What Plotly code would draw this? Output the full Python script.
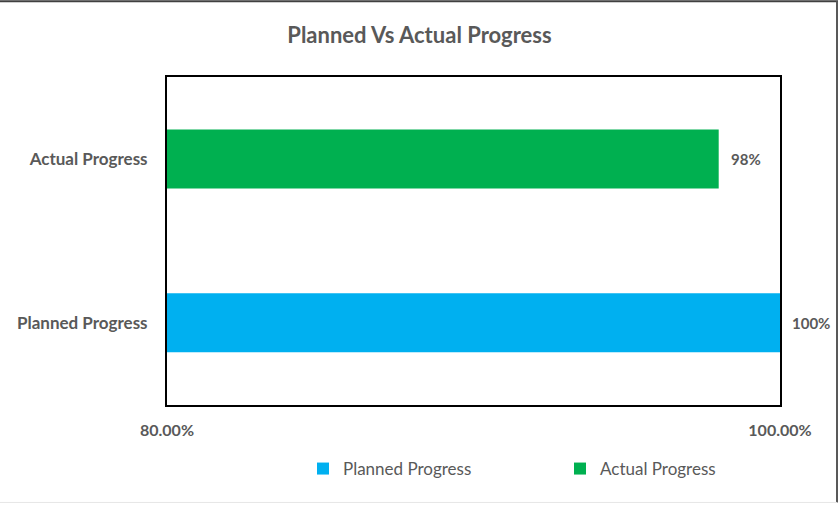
import plotly.graph_objects as go

categories = ["Planned Progress", "Actual Progress"]
values = [1.00, 0.98]
value_labels = ["100%", "98%"]
colors = ["#00B0F0", "#00B050"]
x_ticks = [0.80, 1.00]
x_tick_labels = ["80.00%", "100.00%"]

FONT = "Lato"
GREY = "#595959"

# plot-area pixel frame (used only for converting frame decorations)
L, R, T, B = 167, 780, 77, 406
W, H = R - L, B - T
def px(x):
    return (x - L) / W
def py(y):
    return (B - y) / H

fig = go.Figure()
for cat, val, col in zip(categories, values, colors):
    fig.add_trace(go.Bar(
        y=[cat], x=[val], orientation="h", name=cat,
        marker=dict(color=col, line=dict(width=0)),
        width=0.36,
    ))

for cat, val, lab in zip(categories, values, value_labels):
    fig.add_annotation(x=val, y=cat, text=f"<b>{lab}</b>", showarrow=False,
                       xanchor="left", xshift=10, yshift=0,
                       font=dict(family=FONT, size=15, color=GREY))

fig.update_layout(
    width=839, height=506,
    margin=dict(l=L, r=839 - R, t=T, b=506 - B),
    paper_bgcolor="white", plot_bgcolor="white",
    barmode="overlay",
    title=dict(text="<b>Planned Vs Actual Progress</b>", x=0.5, xanchor="center",
               y=1 - 35 / 506, yanchor="middle", xref="container",
               font=dict(family=FONT, size=22, color=GREY)),
    showlegend=True,
    legend=dict(orientation="h", xref="container", x=(323 - 20) / 839, xanchor="left",
                yref="container", y=1 - 451 / 506, yanchor="top",
                entrywidth=212, entrywidthmode="pixels",
                font=dict(family=FONT, size=17, color=GREY),
                traceorder="normal", borderwidth=0),
    xaxis=dict(range=[0.8, 1.0], tickvals=x_ticks, ticktext=[f"<b>{t}</b>" for t in x_tick_labels],
               showgrid=False, zeroline=False, showline=True, mirror=True,
               linecolor="black", linewidth=2, ticks="", ticklabelstandoff=10,
               tickfont=dict(family=FONT, size=16, color=GREY), fixedrange=True),
    yaxis=dict(categoryorder="array", categoryarray=categories,
               tickvals=categories, ticktext=[f"<b>{c}</b>" for c in categories],
               range=[-0.5, 1.5],
               showgrid=False, zeroline=False, showline=True, mirror=True,
               linecolor="black", linewidth=2, ticks="", ticklabelstandoff=14,
               tickfont=dict(family=FONT, size=17, color=GREY)),
)

# outer chart frame
fig.add_shape(type="line", xref="paper", yref="paper", x0=px(0), x1=px(838), y0=py(1), y1=py(1),
              line=dict(color="#404040", width=2))
fig.add_shape(type="line", xref="paper", yref="paper", x0=px(837), x1=px(837), y0=py(1), y1=py(504),
              line=dict(color="#595959", width=2))
fig.add_shape(type="line", xref="paper", yref="paper", x0=px(0), x1=px(837), y0=py(504), y1=py(504),
              line=dict(color="#e6e6e6", width=1))

fig.write_html("out.html", config={"displayModeBar": False},
               post_script="document.body.style.margin='0';document.body.style.overflow='hidden';")
